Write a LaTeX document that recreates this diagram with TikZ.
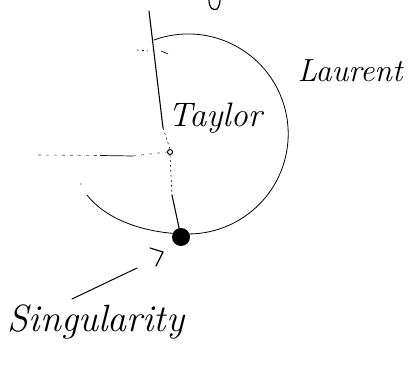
\documentclass[tikz,border=0pt]{standalone}
\usetikzlibrary{calc}
\begin{document}
\begin{tikzpicture}[x=1pt,y=-1pt,
  hand/.style={font=\itshape, inner sep=0pt},
  arc/.style={line width=0.8pt, line cap=round},
  axis/.style={line width=1.1pt, line cap=round},
  faint/.style={line width=0.6pt, dash pattern=on 3pt off 5pt, black!70},
]
\useasboundingbox (0,0) rectangle (409,377);
% labels
\node[hand, font=\fontsize{34}{36}\selectfont\itshape] (taylor) at (215,118) {Taylor};
\node[hand, font=\fontsize{32}{34}\selectfont\itshape] (laurent) at (350,71) {Laurent};
\node[hand, font=\fontsize{38}{40}\selectfont\itshape] (sing) at (96,322) {Singularity};
% points
\node[circle, draw, line width=1pt, minimum size=5pt, inner sep=0pt] (dot) at (170,152) {};
\node[circle, fill, minimum size=18pt, inner sep=0pt] (blob) at (181,237) {};
% circle of convergence (hand drawn)
\draw[arc] (154,40) arc[start angle=-110, end angle=90, radius=100]
  .. controls (150,234) and (108,222) .. (87,195);
% radial line
\coordinate (top) at (149,11);
\coordinate (mid) at (163,128);
\draw[axis] (top) -- (mid);
\draw[line width=0.6pt, dash pattern=on 2pt off 3pt] (mid) -- (dot.north);
\draw[line width=0.6pt, dash pattern=on 2pt off 3pt] (dot.south) -- (172,195);
\draw[axis] (172,195) -- (blob.center);
% horizontal faint line
\coordinate (hl) at (38,155);
\draw[faint] (hl) -- (100,155.5);
\draw[line width=0.7pt] (100,155.5) -- (133,156);
\draw[faint] (133,156) -- (dot.west);
% small tick marks near top
\draw[line width=0.6pt, dash pattern=on 2pt off 3pt] (137,50) -- (148,51);
\draw[line width=0.7pt] (161,51) -- (168,54);
\fill (81,184) circle (0.6pt);
% cut-off letter at top
\draw[line width=1.2pt, line cap=round] (209,0) .. controls (209,8) and (213,11) .. (217,9) .. controls (219,7) and (220,3) .. (220,0);
% arrow to singularity
\coordinate (s1) at (72,299);
\coordinate (s2) at (137,268);
\draw[line width=1pt, line cap=round] (s1) -- (s2);
\draw[line width=1.2pt, line cap=round, line join=round] (150,248) -- (163,252) -- (156,266);
\end{tikzpicture}
\end{document}
